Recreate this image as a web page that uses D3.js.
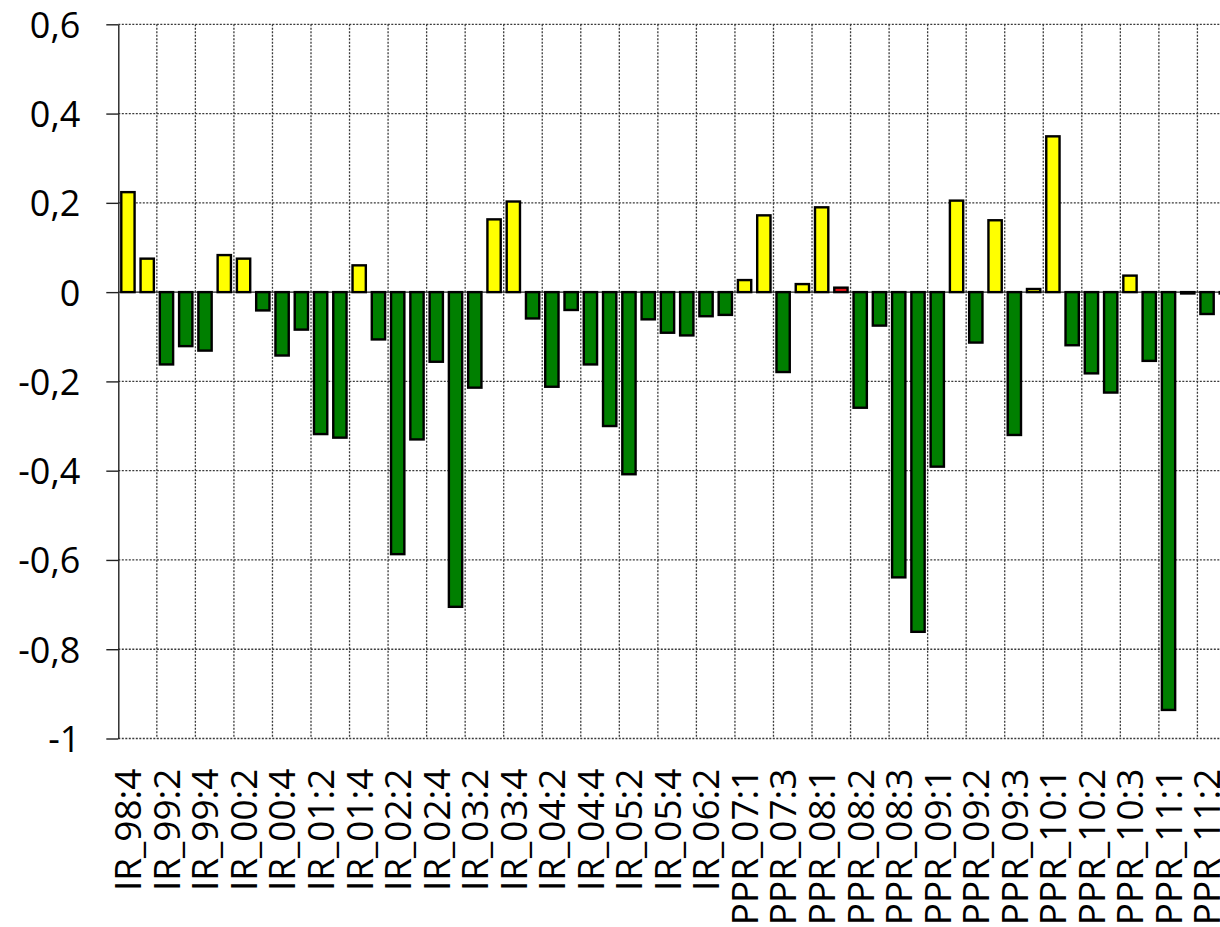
<!DOCTYPE html>
<html>
<head>
<meta charset="utf-8">
<script src="https://cdn.jsdelivr.net/npm/d3@7"></script>
<style>
  body { margin: 0; background: #fff; }
  svg { display: block; font-family: "Open Sans", "Noto Sans", sans-serif; }
</style>
</head>
<body>
<div id="chart"></div>
<script>
// categories (only every other one gets a label)
const categories = [
  "IR_98:4", "IR_99:1", "IR_99:2", "IR_99:3", "IR_99:4",
  "IR_00:1", "IR_00:2", "IR_00:3", "IR_00:4",
  "IR_01:1", "IR_01:2", "IR_01:3", "IR_01:4",
  "IR_02:1", "IR_02:2", "IR_02:3", "IR_02:4",
  "IR_03:1", "IR_03:2", "IR_03:3", "IR_03:4",
  "IR_04:1", "IR_04:2", "IR_04:3", "IR_04:4",
  "IR_05:1", "IR_05:2", "IR_05:3", "IR_05:4",
  "IR_06:1", "IR_06:2", "IR_06:3",
  "PPR_07:1", "PPR_07:2", "PPR_07:3", "PPU_07:3",
  "PPR_08:1", "PPU_08:1", "PPR_08:2", "PPU_08:2", "PPR_08:3", "PPU_08:3",
  "PPR_09:1", "PPU_09:1", "PPR_09:2", "PPU_09:2", "PPR_09:3", "PPU_09:3",
  "PPR_10:1", "PPU_10:1", "PPR_10:2", "PPU_10:2", "PPR_10:3", "PPU_10:3",
  "PPR_11:1", "PPU_11:1", "PPR_11:2", "PPU_11:2"
];

const values = [
  0.224, 0.075, -0.162, -0.121, -0.131,
  0.083, 0.075, -0.041, -0.142,
  -0.084, -0.318, -0.326, 0.060,
  -0.106, -0.587, -0.330, -0.156,
  -0.705, -0.214, 0.163, 0.203,
  -0.059, -0.212, -0.040, -0.162,
  -0.300, -0.408, -0.061, -0.091,
  -0.097, -0.054, -0.051,
  0.027, 0.172, -0.179, 0.018,
  0.190, 0.010, -0.259, -0.075, -0.639, -0.761,
  -0.391, 0.205, -0.113, 0.161, -0.320, 0.007,
  0.349, -0.119, -0.182, -0.225, 0.037, -0.154,
  -0.936, -0.003, -0.049, -0.003
];

// bars drawn in red
const redCategories = ["PPU_08:1"];

const yTicks = [-1, -0.8, -0.6, -0.4, -0.2, 0, 0.2, 0.4, 0.6];

const width = 1220;
const height = 927;
const plotLeft = 118.3;
const step = 19.27;
const plotTop = 24.3;
const plotBottom = 738.5;

const svg = d3.select("#chart")
  .append("svg")
    .attr("width", width)
    .attr("height", height);

const x = d3.scaleBand()
  .domain(categories)
  .range([plotLeft, plotLeft + step * categories.length])
  .paddingInner(0.31)
  .paddingOuter(0.155);

const y = d3.scaleLinear()
  .domain([-1, 0.6])
  .range([plotBottom, plotTop]);

const locale = d3.formatLocale({decimal: ",", thousands: " ", grouping: [3], currency: ["", ""], minus: "-"});
const fmt = locale.format(".1~f");

const gridStyle = g => g
  .attr("stroke", "#3a3a3a")
  .attr("stroke-width", 1.3)
  .attr("stroke-dasharray", "2,1.5");

// horizontal grid
svg.append("g")
  .call(gridStyle)
  .selectAll("line")
  .data(yTicks.filter(d => d !== 0))
  .enter()
  .append("line")
    .attr("x1", plotLeft)
    .attr("x2", width)
    .attr("y1", d => y(d))
    .attr("y2", d => y(d));

// vertical grid every two categories
const offset = (x.step() - x.bandwidth()) / 2;
svg.append("g")
  .call(gridStyle)
  .selectAll("line")
  .data(categories.filter((d, i) => i % 2 === 0 && i > 0))
  .enter()
  .append("line")
    .attr("x1", d => x(d) - offset)
    .attr("x2", d => x(d) - offset)
    .attr("y1", y(0.6))
    .attr("y2", y(-1));

// zero line
svg.append("line")
  .attr("x1", plotLeft)
  .attr("x2", width)
  .attr("y1", y(0))
  .attr("y2", y(0))
  .attr("stroke", "#222")
  .attr("stroke-width", 1.4);

// bars
svg.append("g")
  .selectAll("rect")
  .data(categories.map((c, i) => ({key: c, value: values[i]})))
  .enter()
  .append("rect")
    .attr("x", d => x(d.key))
    .attr("width", x.bandwidth())
    .attr("y", d => y(Math.max(0, d.value)))
    .attr("height", d => Math.abs(y(d.value) - y(0)))
    .attr("fill", d => redCategories.includes(d.key) ? "#e8141a" : (d.value >= 0 ? "#ffff00" : "#007f00"))
    .attr("stroke", "#000")
    .attr("stroke-width", 2.4);

// y axis
const yAxis = svg.append("g")
  .attr("transform", "translate(" + plotLeft + ",0)")
  .call(d3.axisLeft(y).tickValues(yTicks).tickFormat(fmt).tickSizeInner(12).tickSizeOuter(0).tickPadding(26));

yAxis.select(".domain").attr("stroke", "#222").attr("stroke-width", 1.4);
yAxis.selectAll(".tick line").attr("stroke", "#222").attr("stroke-width", 1.4);
yAxis.selectAll("text")
  .attr("font-size", 36)
  .attr("font-family", "'Open Sans', sans-serif")
  .attr("fill", "#000")
  .attr("dy", "0.36em");

// x axis labels
const xAxis = svg.append("g")
  .attr("transform", "translate(0," + y(-1) + ")")
  .call(d3.axisBottom(x).tickValues(categories.filter((d, i) => i % 2 === 0)).tickSize(0));

xAxis.select(".domain").remove();
xAxis.selectAll("text")
  .attr("transform", "rotate(-90)")
  .attr("x", -30)
  .attr("y", 0)
  .attr("dy", "0.36em")
  .attr("text-anchor", "end")
  .attr("font-size", 37)
  .attr("font-family", "'Open Sans', sans-serif")
  .attr("fill", "#000");
</script>
</body>
</html>
